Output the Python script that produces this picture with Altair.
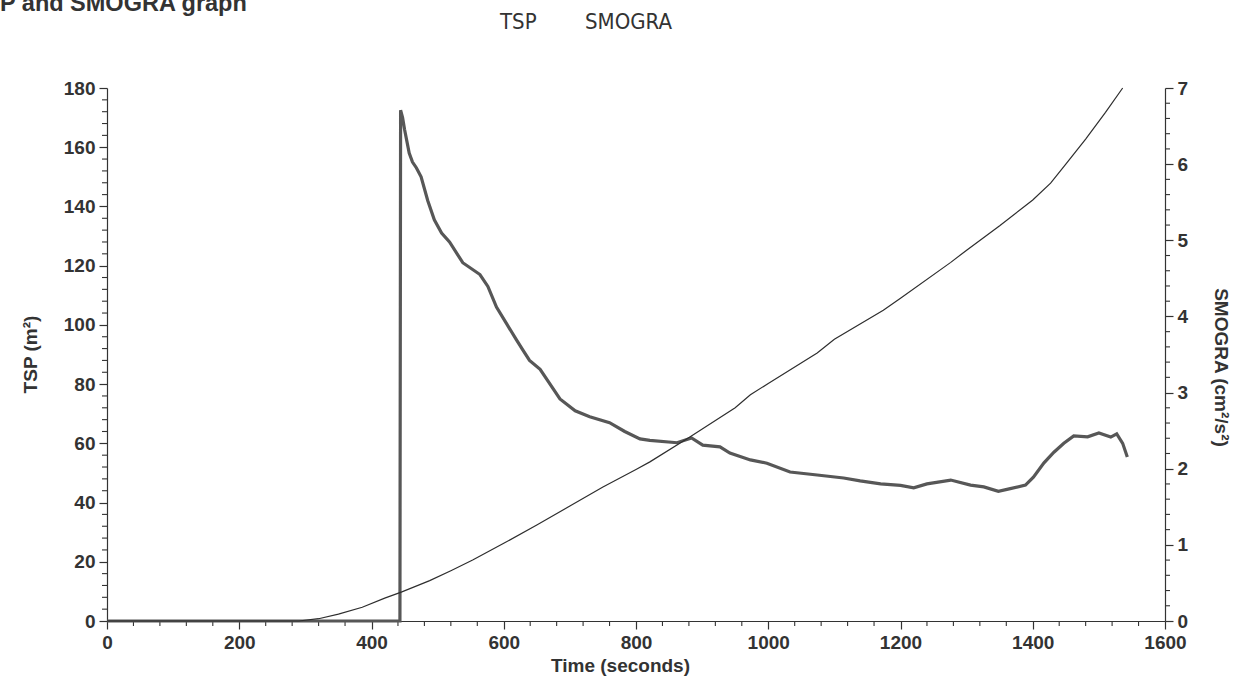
import altair as alt
import pandas as pd

# TSP (total smoke production, m²) against time (s)
tsp_time = [0, 443, 444, 447, 450, 457, 462, 468, 475, 485, 495, 506, 518, 538,
            564, 576, 589, 604, 619, 629, 639, 655, 685, 708, 730, 760, 783, 806,
            821, 862, 884, 901, 927, 942, 973, 998, 1033, 1074, 1114, 1139, 1170,
            1200, 1220, 1240, 1276, 1306, 1326, 1348, 1366, 1389, 1401, 1417, 1432,
            1447, 1462, 1483, 1500, 1518, 1527, 1536, 1543]
tsp_vals = [0, 0, 172.5, 170, 166, 158, 155, 153, 150, 142, 135.5, 131, 128, 121,
            117, 113, 106, 100.5, 95, 91.5, 88, 85, 75, 71, 69, 67, 64, 61.5,
            61, 60.2, 61.8, 59.4, 58.8, 56.7, 54.4, 53.3, 50.3, 49.3, 48.3, 47.3, 46.3,
            45.8, 45, 46.3, 47.6, 45.9, 45.3, 43.8, 44.7, 45.9, 48.6, 53.4, 57,
            60, 62.5, 62.2, 63.5, 62.1, 63.2, 60, 55.4]

# SMOGRA (smoke growth rate, cm²/s²) against time (s)
smogra_time = [0, 290, 320, 350, 386, 420, 445, 488, 520, 553, 600, 650, 700, 750,
               800, 821, 882, 950, 973, 1000, 1074, 1100, 1174, 1200, 1276, 1300,
               1350, 1400, 1427, 1450, 1480, 1510, 1536]
smogra_vals = [0, 0, 0.03, 0.09, 0.18, 0.30, 0.38, 0.53, 0.66, 0.80, 1.02, 1.26, 1.51, 1.76,
               1.99, 2.09, 2.42, 2.80, 2.97, 3.12, 3.52, 3.70, 4.08, 4.24, 4.71, 4.87,
               5.19, 5.53, 5.75, 6.0, 6.33, 6.68, 7.0]

x_major = [0, 200, 400, 600, 800, 1000, 1200, 1400, 1600]
x_minor = [v for v in range(0, 1601, 40) if v % 200 != 0]
tsp_major = list(range(0, 181, 20))
tsp_minor = [v for v in range(0, 181, 4) if v % 20 != 0]
smogra_major = [0, 1, 2, 3, 4, 5, 6, 7]
smogra_minor = [round(i * 0.2, 1) for i in range(36) if i % 5 != 0]

W, H = 1058, 533
FONT = "Liberation Sans"
INK = "#333333"

tsp_df = pd.DataFrame({"time": tsp_time, "tsp": tsp_vals})
smogra_df = pd.DataFrame({"time": smogra_time, "smogra": smogra_vals})

x_scale = alt.Scale(domain=[0, 1600], nice=False, zero=False)
tsp_scale = alt.Scale(domain=[0, 180], nice=False)
smogra_scale = alt.Scale(domain=[0, 7], nice=False)

axis_common = dict(
    labelFont=FONT, labelFontWeight="bold", labelFontSize=19, labelColor=INK,
    titleFont=FONT, titleFontWeight="bold", titleFontSize=19, titleColor=INK,
    tickColor=INK, domainColor=INK, tickSize=8, tickWidth=1.2, domainWidth=1.2,
    grid=False, labelPadding=4, format="d",
)

x_axis = alt.Axis(values=x_major, orient="bottom", title="Time (seconds)",
                  titleX=513, titleY=44, titleBaseline="middle", labelFlush=False,
                  **axis_common)
tsp_axis = alt.Axis(values=tsp_major, orient="left", title="TSP (m²)",
                    titleX=-77, titleY=266, titleBaseline="middle", **axis_common)
smogra_axis = alt.Axis(values=smogra_major, orient="right",
                       title="SMOGRA (cm²/s²)", titleX=55, titleY=279,
                       titleBaseline="middle", **axis_common)

x_minor_ticks = alt.Chart(pd.DataFrame({"time": x_minor})).mark_rule(
    color=INK, strokeWidth=1.1
).encode(
    x=alt.X("time:Q", scale=x_scale, axis=x_axis),
    y=alt.value(H), y2=alt.value(H + 5),
)

tsp_line = alt.Chart(tsp_df).mark_line(color="#575757", strokeWidth=3.2).encode(
    x=alt.X("time:Q", scale=x_scale, axis=x_axis),
    y=alt.Y("tsp:Q", scale=tsp_scale, axis=tsp_axis),
)

tsp_minor_ticks = alt.Chart(pd.DataFrame({"v": tsp_minor})).mark_rule(
    color=INK, strokeWidth=1.1
).encode(
    y=alt.Y("v:Q", scale=tsp_scale, axis=None),
    x=alt.value(0), x2=alt.value(-5),
)

smogra_line = alt.Chart(smogra_df).mark_line(color="#2e2e2e", strokeWidth=1.2).encode(
    x=alt.X("time:Q", scale=x_scale, axis=x_axis),
    y=alt.Y("smogra:Q", scale=smogra_scale, axis=smogra_axis),
)

smogra_minor_ticks = alt.Chart(pd.DataFrame({"v": smogra_minor})).mark_rule(
    color=INK, strokeWidth=1.1
).encode(
    y=alt.Y("v:Q", scale=smogra_scale, axis=None),
    x=alt.value(W), x2=alt.value(W + 5),
)


def header_text(label, px, py, **style):
    return alt.Chart(pd.DataFrame({"label": [label]})).mark_text(
        align="left", baseline="alphabetic", color=INK, **style
    ).encode(text="label:N", x=alt.value(px), y=alt.value(py))


# Chart title (runs off the left edge) and the series names
title_text = header_text("TSP and SMOGRA graph", -137, -77,
                         font=FONT, fontWeight="bold", fontSize=23.5)
legend_font = "DejaVu Sans Condensed, DejaVu Sans"
legend_tsp = header_text("TSP", 393, -59, font=legend_font, fontSize=22)
legend_smogra = header_text("SMOGRA", 478, -59, font=legend_font, fontSize=22)

chart = alt.layer(
    x_minor_ticks, tsp_line, tsp_minor_ticks,
    smogra_line, smogra_minor_ticks,
    title_text, legend_tsp, legend_smogra,
).resolve_scale(y="independent").properties(
    width=W, height=H,
    background="white",
    autosize=alt.AutoSizeParams(type="none"),
    padding={"left": 107, "top": 88, "right": 69, "bottom": 57},
).configure_view(stroke="transparent")

chart.save("out.html", embed_options={"renderer": "svg", "actions": False})
